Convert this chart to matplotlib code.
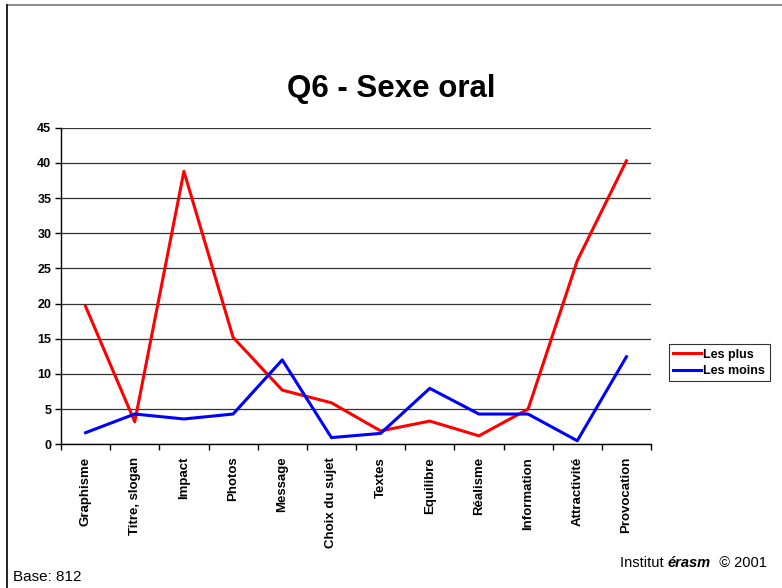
import matplotlib
matplotlib.use("Agg")
import matplotlib.pyplot as plt
from matplotlib.lines import Line2D

plt.rcParams['font.family'] = ['Liberation Sans', 'DejaVu Sans']

categories = ['Graphisme', 'Titre, slogan', 'Impact', 'Photos', 'Message',
              'Choix du sujet', 'Textes', 'Equilibre', 'Réalisme',
              'Information', 'Attractivité', 'Provocation']
les_plus = [19.6, 3.2, 38.8, 15.2, 7.7, 5.9, 1.9, 3.3, 1.2, 5.0, 26.1, 40.3]
les_moins = [1.65, 4.3, 3.6, 4.3, 12.0, 0.95, 1.55, 7.95, 4.3, 4.3, 0.5, 12.45]
yticks = list(range(0, 50, 5))

fig = plt.figure(figsize=(7.82, 5.88), dpi=100)
ax = fig.add_axes([0.078, 0.2444, 0.7545, 0.5384])

x = list(range(len(categories)))
ax.plot(x, les_plus, color='#ff0000', lw=2.2, label='Les plus', zorder=3)
ax.plot(x, les_moins, color='#0000ff', lw=2.2, label='Les moins', zorder=3)

ax.set_xlim(-0.5, len(categories) - 0.5)
ax.set_ylim(0, 45)
ax.set_yticks(yticks)
ax.set_yticklabels([str(v) for v in yticks], fontsize=9, fontweight='bold')
ax.set_xticks(x)
ax.set_xticklabels(categories, rotation=90, fontsize=9.5, fontweight='bold', va='top')
ax.set_xticks([i - 0.5 for i in range(len(categories) + 1)], minor=True)
ax.tick_params(axis='x', which='major', length=0, pad=9)
ax.tick_params(axis='x', which='minor', length=4, direction='out', width=1)
ax.tick_params(axis='y', length=4, direction='out', width=1, pad=3)

ax.grid(axis='y', color='#333333', lw=0.9)
ax.set_axisbelow(True)
for s in ['top', 'right']:
    ax.spines[s].set_visible(False)
for s in ['left', 'bottom']:
    ax.spines[s].set_color('black')
    ax.spines[s].set_linewidth(1)

fig.text(0.5, 0.849, 'Q6 - Sexe oral', ha='center', va='center',
         fontsize=22.5, fontweight='bold')

leg = ax.legend(loc='center left', bbox_to_anchor=(1.02, 0.257), frameon=True,
                fancybox=False, edgecolor='black', handlelength=2.2,
                handletextpad=0.2, borderpad=0.35, labelspacing=0.35,
                prop={'weight': 'bold', 'size': 9})
leg.get_frame().set_linewidth(0.8)

# frame lines of the original slide
fig.add_artist(Line2D([0.009, 1.0], [0.9915, 0.9915], color='#777777', lw=1.2,
                      transform=fig.transFigure))
fig.add_artist(Line2D([0.009, 0.009], [0.0, 0.9915], color='black', lw=1.2,
                      transform=fig.transFigure))

fig.text(0.016, 0.018, 'Base: 812', fontsize=11, va='center')
t1 = fig.text(0.793, 0.043, 'Institut ', fontsize=10.5, va='center')
t2 = ax.annotate('érasm', xy=(1, 0.5), xycoords=t1, va='center', ha='left',
                 fontsize=10.5, fontweight='bold', style='italic',
                 annotation_clip=False)
ax.annotate('  © 2001', xy=(1, 0.5), xycoords=t2, va='center', ha='left',
            fontsize=10.5, annotation_clip=False)

fig.savefig('out.png', dpi=100)
